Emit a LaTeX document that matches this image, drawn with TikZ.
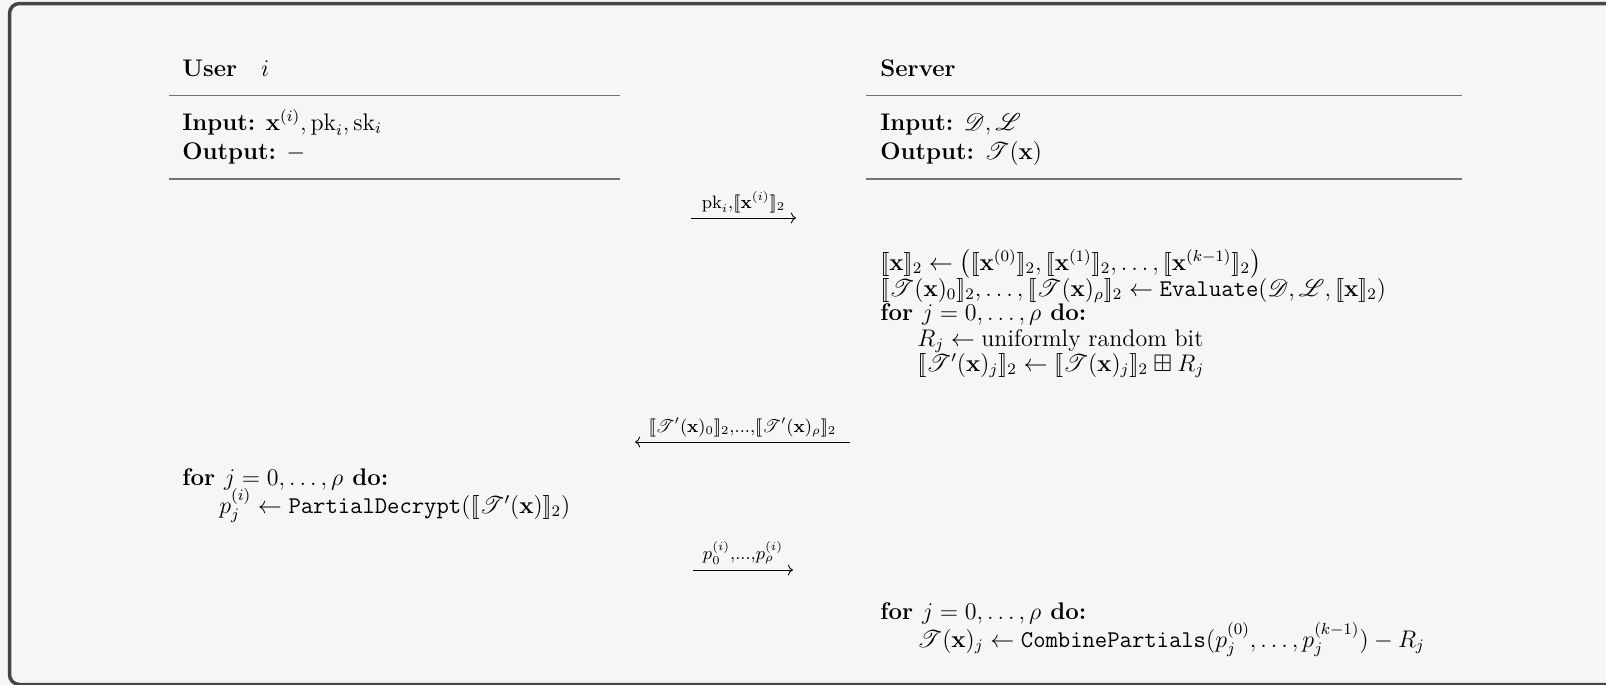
\documentclass[tikz,border=0pt]{standalone}
\usepackage{amsmath,amssymb}
\usepackage{mathrsfs}
\usetikzlibrary{arrows.meta}
\definecolor{pagebg}{HTML}{F6F6F6}
\definecolor{frameink}{HTML}{464646}
\definecolor{ruleink}{HTML}{737373}
\newcommand{\enc}[1]{[\![#1]\!]}
\newcommand{\cT}{\mathscr{T}}
\newcommand{\bx}{\mathbf{x}}

\begin{document}
\begin{tikzpicture}[x=0.5pt, y=-0.5pt,
    font=\fontsize{12}{14.5}\selectfont,
    txt/.style={anchor=base west, inner sep=0pt},
    rulebar/.style={draw=ruleink, line width=0.65pt},
    msg/.style={line width=0.45pt, ->},
    msglabel/.style={midway, above=2.5pt, inner sep=0pt,
                     font=\fontsize{12.8}{15}\selectfont}]
  \useasboundingbox (0,0) rectangle (1606,685);
  \fill[pagebg] (0,0) rectangle (1606,685);
  \clip (0,0) rectangle (1606,685);
  \draw[frameink, line width=1.75pt, rounded corners=5pt]
    (9.5,3.5) rectangle (1650,684.5);

  % headers
  \node[txt] (user) at (182,76) {\textbf{User}\quad$i$};
  \node[txt] (server) at (880,76) {\textbf{Server}};
  \draw[rulebar] (169,95.5) -- (620,95.5);
  \draw[rulebar] (866,95.5) -- (1462,95.5);
  \node[txt] (uin) at (182,130) {\textbf{Input:} $\bx^{(i)},\mathrm{pk}_i,\mathrm{sk}_i$};
  \node[txt] (uout) at (182,159) {\textbf{Output:} $-$};
  \node[txt] (sin) at (880,130) {\textbf{Input:} $\mathscr{D},\mathscr{L}$};
  \node[txt] (sout) at (880,159) {\textbf{Output:} $\cT(\bx)$};
  \draw[rulebar] (169,179) -- (620,179);
  \draw[rulebar] (866,179) -- (1462,179);

  % message 1
  \coordinate (m1a) at (691,218);
  \coordinate (m1b) at (796,218);
  \draw[msg] (m1a) -- (m1b)
    node[msglabel] {$\scriptstyle \mathrm{pk}_i,\enc{\bx^{(i)}}_2$};

  % server evaluates
  \node[txt] (s1) at (880,270)
    {$\enc{\bx}_2 \leftarrow \bigl(\enc{\bx^{(0)}}_2,\enc{\bx^{(1)}}_2,\dots,\enc{\bx^{(k-1)}}_2\bigr)$};
  \node[txt] (s2) at (880,296)
    {$\enc{\cT(\bx)_0}_2,\dots,\enc{\cT(\bx)_\rho}_2 \leftarrow \mathtt{Evaluate}(\mathscr{D},\mathscr{L},\enc{\bx}_2)$};
  \node[txt] (s3) at (880,320) {$\textbf{for } j=0,\dots,\rho \textbf{ do:}$};
  \node[txt] (s4) at (917,346) {$R_j \leftarrow \text{uniformly random bit}$};
  \node[txt] (s5) at (917,371)
    {$\enc{\cT'(\bx)_j}_2 \leftarrow \enc{\cT(\bx)_j}_2 \boxplus R_j$};

  % message 2
  \coordinate (m2a) at (850,442);
  \coordinate (m2b) at (635,442);
  \draw[msg] (m2a) -- (m2b)
    node[msglabel] {$\scriptstyle \enc{\cT'(\bx)_0}_2,\dots,\enc{\cT'(\bx)_\rho}_2$};

  % user decrypts
  \node[txt] (u1) at (182,485) {$\textbf{for } j=0,\dots,\rho \textbf{ do:}$};
  \node[txt] (u2) at (219,513)
    {$p_j^{(i)} \leftarrow \mathtt{PartialDecrypt}(\enc{\cT'(\bx)}_2)$};

  % message 3
  \coordinate (m3a) at (693,570);
  \coordinate (m3b) at (793,570);
  \draw[msg] (m3a) -- (m3b)
    node[msglabel] {$\scriptstyle p_0^{(i)},\dots,p_\rho^{(i)}$};

  % server combines
  \node[txt] (s6) at (880,619) {$\textbf{for } j=0,\dots,\rho \textbf{ do:}$};
  \node[txt] (s7) at (917,647)
    {$\cT(\bx)_j \leftarrow \mathtt{CombinePartials}(p_j^{(0)},\dots,p_j^{(k-1)}) - R_j$};
\end{tikzpicture}
\end{document}
